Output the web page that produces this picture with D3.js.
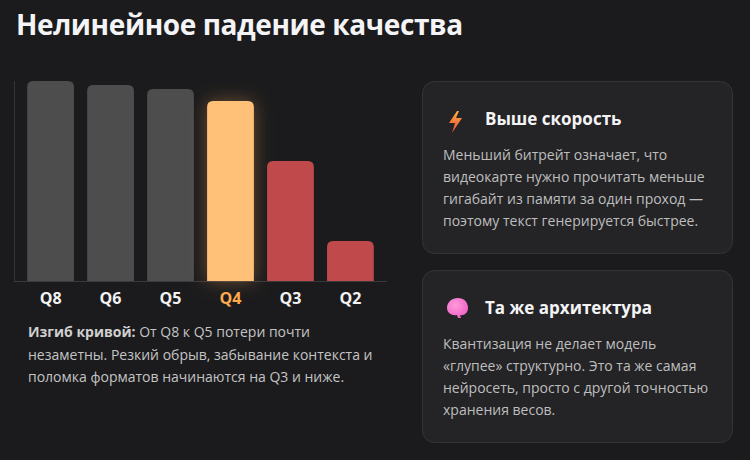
<!DOCTYPE html>
<html><head><meta charset="utf-8">
<script src="https://cdn.jsdelivr.net/npm/d3@7/dist/d3.min.js"></script>
<style>
html,body{margin:0;padding:0;background:#1b1b1d;}
svg{display:block;font-family:"Segoe UI","Open Sans","Noto Sans",sans-serif;}
</style></head>
<body>
<svg id="c" width="750" height="460"></svg>
<script>
const categories = ["Q8","Q6","Q5","Q4","Q3","Q2"];
const quality = [100, 98, 96, 90, 60, 20];
const barKind = ["base","base","base","highlight","bad","bad"];
const title = "Нелинейное падение качества";
const captionBold = "Изгиб кривой:";
const captionLines = [" От Q8 к Q5 потери почти", "незаметны. Резкий обрыв, забывание контекста и", "поломка форматов начинаются на Q3 и ниже."];
const cardTitles = ["Выше скорость", "Та же архитектура"];
const cardTexts = [
  ["Меньший битрейт означает, что", "видеокарте нужно прочитать меньше", "гигабайт из памяти за один проход —", "поэтому текст генерируется быстрее."],
  ["Квантизация не делает модель", "«глупее» структурно. Это та же самая", "нейросеть, просто с другой точностью", "хранения весов."]
];

const colors = {base:"#4d4d4d", highlight:"#ffc078", bad:"#c0494b"};
const labelColors = {base:"#f2f2f2", highlight:"#ffa94d", bad:"#f2f2f2"};

const svg = d3.select("#c");
const defs = svg.append("defs");
const glow = defs.append("filter").attr("id","glow").attr("x","-60%").attr("y","-30%").attr("width","220%").attr("height","160%");
glow.append("feDropShadow").attr("dx",0).attr("dy",0).attr("stdDeviation",9).attr("flood-color","#ffa94d").attr("flood-opacity",0.35);
const bolt = defs.append("linearGradient").attr("id","bolt").attr("x1",0).attr("y1",0).attr("x2",0).attr("y2",1);
bolt.append("stop").attr("offset","0%").attr("stop-color","#ffb13b");
bolt.append("stop").attr("offset","100%").attr("stop-color","#e8433f");
const brain = defs.append("radialGradient").attr("id","brain").attr("cx","40%").attr("cy","35%").attr("r","70%");
brain.append("stop").attr("offset","0%").attr("stop-color","#ff9ad8");
brain.append("stop").attr("offset","100%").attr("stop-color","#f060c8");

svg.append("text").attr("x",16).attr("y",35).attr("fill","#f4f4f6")
  .attr("font-size",28).attr("font-weight",700).attr("letter-spacing",-0.4).text(title);

// chart
const x0 = 14, x1 = 387, yBase = 281, yTop = 81;
const x = d3.scaleBand().domain(categories).range([x0, x1]).paddingInner(0.22).paddingOuter(0.22);
const y = d3.scaleLinear().domain([0,100]).range([yBase, yTop]);

svg.append("line").attr("x1",x0+0.5).attr("x2",x0+0.5).attr("y1",yTop).attr("y2",yBase).attr("stroke","#333336");
svg.append("line").attr("x1",x0).attr("x2",x1).attr("y1",yBase+0.5).attr("y2",yBase+0.5).attr("stroke","#3a3a3d");

function topRounded(xp, yp, w, h, r){
  return `M${xp},${yp+h}V${yp+r}Q${xp},${yp} ${xp+r},${yp}H${xp+w-r}Q${xp+w},${yp} ${xp+w},${yp+r}V${yp+h}Z`;
}
const data = categories.map((c,i)=>({c, v:quality[i], k:barKind[i]}));
svg.append("g").selectAll("path").data(data).join("path")
  .attr("d", d => topRounded(x(d.c), y(d.v), x.bandwidth(), yBase - y(d.v), 6))
  .attr("fill", d => colors[d.k])
  .attr("filter", d => d.k==="highlight" ? "url(#glow)" : null);

const xAxis = svg.append("g").attr("transform",`translate(0,${yBase})`).call(d3.axisBottom(x).tickSize(0).tickPadding(12));
xAxis.select(".domain").remove();
xAxis.selectAll("text").attr("font-size",16).attr("font-weight",700)
  .attr("font-family",'"Segoe UI","Open Sans","Noto Sans",sans-serif')
  .attr("fill",(d,i)=>labelColors[barKind[i]]);

// caption
const cap = svg.append("text").attr("x",28).attr("y",337).attr("font-size",14).attr("fill","#c4c4c4");
cap.append("tspan").attr("font-weight",700).attr("fill","#d0d0d0").text(captionBold);
cap.append("tspan").text(captionLines[0]);
captionLines.slice(1).forEach((l,i)=>{
  svg.append("text").attr("x",28).attr("y",337 + 22.5*(i+1)).attr("font-size",14).attr("fill","#c4c4c4").text(l);
});

// cards
const cardTops = [81, 270];
cardTops.forEach((t,ci)=>{
  const g = svg.append("g").attr("transform",`translate(422,${t})`);
  g.append("rect").attr("x",0.5).attr("y",0.5).attr("width",310).attr("height",172).attr("rx",12)
    .attr("fill","#242426").attr("stroke","#343437");
  g.append("text").attr("x",63).attr("y",44).attr("font-size",17).attr("font-weight",700).attr("fill","#f4f4f6").text(cardTitles[ci]);
  cardTexts[ci].forEach((l,i)=>{
    g.append("text").attr("x",21).attr("y",79 + 22*i).attr("font-size",14).attr("fill","#bebebe").text(l);
  });
  if(ci===0){
    g.append("path").attr("d","M35,30 L27,42 L33,42 L30,52 L40,37 L34,37 L37,30 Z").attr("fill","url(#bolt)");
  } else {
    g.append("path").attr("d","M25,38 C25,32 30,28 36,28 C42,28 46,32 46,38 C46,43 42,46 38,45 L39,48 L36,48 L35,45 C30,46 25,43 25,38 Z")
      .attr("fill","url(#brain)");
  }
});
</script>
</body></html>
